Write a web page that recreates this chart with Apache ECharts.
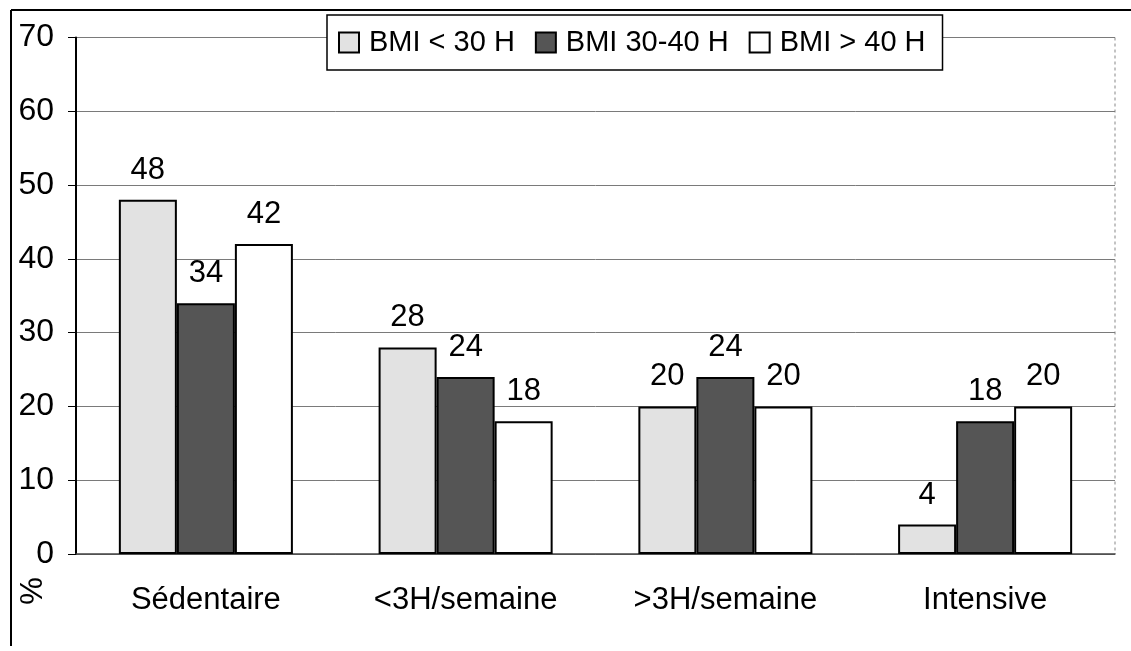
<!DOCTYPE html>
<html><head><meta charset="utf-8">
<script src="https://cdn.jsdelivr.net/npm/echarts@6/dist/echarts.min.js"></script>
<style>html,body{margin:0;padding:0;background:#fff}#c{width:1131px;height:651px}</style>
</head><body><div id="c"></div>
<script>
var categories = ['Sédentaire', '<3H/semaine', '>3H/semaine', 'Intensive'];
var seriesNames = ['BMI < 30 H', 'BMI 30-40 H', 'BMI > 40 H'];
var bmiLow = [48, 28, 20, 4];
var bmiMid = [34, 24, 24, 18];
var bmiHigh = [42, 18, 20, 20];
var yTicks = [0, 10, 20, 30, 40, 50, 60, 70];

var FONT = '"Liberation Sans", Arial, sans-serif';
var fills = ['#e2e2e2', '#555555', '#ffffff'];
var values = [bmiLow, bmiMid, bmiHigh];

var chart = echarts.init(document.getElementById('c'));
chart.setOption({
  animation: false,
  backgroundColor: '#fff',
  textStyle: {fontFamily: FONT},
  grid: {left: 76, right: 16, top: 37.5, bottom: 97, containLabel: false},
  legend: {
    data: seriesNames,
    left: 327, top: 15,
    padding: [13, 17, 13, 11],
    itemWidth: 20, itemHeight: 20, itemGap: 20,
    backgroundColor: '#fff',
    borderColor: '#000', borderWidth: 1.5,
    icon: 'rect',
    textStyle: {fontSize: 29, color: '#000', fontFamily: FONT, padding: [0, 0, 0, 5]}
  },
  xAxis: {
    type: 'category',
    data: categories,
    axisLine: {lineStyle: {color: '#444', width: 1.5}},
    axisTick: {show: false},
    axisLabel: {fontSize: 31, color: '#000', margin: 31, fontFamily: FONT},
    splitLine: {show: false}
  },
  yAxis: {
    type: 'value',
    min: yTicks[0], max: yTicks[yTicks.length - 1], interval: 10,
    axisLine: {show: true, lineStyle: {color: '#000', width: 2}},
    axisTick: {show: true, length: 8, lineStyle: {color: '#000'}},
    axisLabel: {fontSize: 32, color: '#000', margin: 22, fontFamily: FONT},
    splitLine: {show: true, lineStyle: {color: '#7a7a7a', width: 1}}
  },
  series: seriesNames.map(function (n, i) {
    return {
      name: n, type: 'bar', data: values[i],
      barGap: '0%', barCategoryGap: '33%',
      itemStyle: {color: fills[i], borderColor: '#000', borderWidth: 2},
      label: {show: true, position: 'top', distance: 14, fontSize: 31, color: '#000', fontFamily: FONT}
    };
  }),
  graphic: [
    {type: 'line', shape: {x1: 11, y1: 10, x2: 1131, y2: 10}, style: {stroke: '#000', lineWidth: 2}},
    {type: 'line', shape: {x1: 11, y1: 10, x2: 11, y2: 646}, style: {stroke: '#000', lineWidth: 2}},
    {type: 'line', shape: {x1: 1115, y1: 37.5, x2: 1115, y2: 554}, style: {stroke: '#888', lineWidth: 1, lineDash: [3, 3]}},
    {type: 'text', x: 33, y: 591, rotation: Math.PI / 2,
     style: {text: '%', fontSize: 31, fill: '#000', font: '31px ' + FONT, align: 'center', verticalAlign: 'middle'}}
  ]
});
</script></body></html>
